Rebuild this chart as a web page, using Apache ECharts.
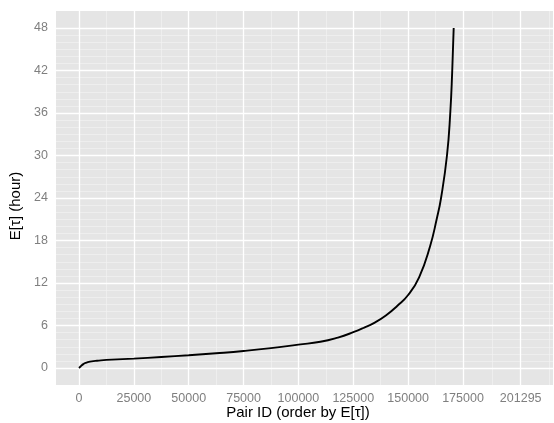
<!DOCTYPE html>
<html>
<head>
<meta charset="utf-8">
<script src="https://cdn.jsdelivr.net/npm/echarts@6/dist/echarts.min.js"></script>
<style>
  html, body { margin: 0; padding: 0; background: #fff; }
  #chart { width: 554px; height: 423px; }
</style>
</head>
<body>
<div id="chart"></div>
<script>
// Pairs ranked by expected waiting time E[τ], in hours
const pairRank = [0, 500, 1000, 2000, 3000, 5000, 7500, 10000, 15000, 25000,
  37500, 50000, 62500, 75000, 87500, 100000, 110000, 118000, 125000, 130000,
  135000, 140000, 145000, 150000, 155000, 160000, 163000,
  165000, 167700, 169200, 170100, 170760];
const expectedHours = [0, 0.15, 0.3, 0.55, 0.72, 0.9, 1.0, 1.08, 1.18, 1.32,
  1.55, 1.8, 2.08, 2.4, 2.8, 3.3, 3.7, 4.3, 5.05, 5.7,
  6.45, 7.45, 8.75, 10.3, 12.8, 17.2, 21,
  24, 30, 36, 42, 48];

// Axis breaks
const xTicks = [0, 25000, 50000, 75000, 100000, 125000, 150000, 175000, 201295];
const xMinor = [12500, 37500, 62500, 87500, 112500, 137500, 162500, 188147.5, 214442.5];
const yTicks = [0, 6, 12, 18, 24, 30, 36, 42, 48];
const yMinor = [];
for (let h = 1; h < 48; h++) if (h % 6 !== 0) yMinor.push(h);

const curve = pairRank.map((x, i) => [x, expectedHours[i]]);

const minorStyle = { color: '#F2F2F2', width: 0.7, type: 'solid' };
const majorStyle = { color: '#FFFFFF', width: 1.3, type: 'solid' };

const gridLines = []
  .concat(yMinor.map(v => ({ yAxis: v, lineStyle: minorStyle })))
  .concat(xMinor.map(v => ({ xAxis: v, lineStyle: minorStyle })))
  .concat(yTicks.map(v => ({ yAxis: v, lineStyle: majorStyle })))
  .concat(xTicks.map(v => ({ xAxis: v, lineStyle: majorStyle })));

const tickText = { color: '#7F7F7F', fontSize: 12.5, fontFamily: 'Liberation Sans', formatter: v => String(v) };

const chart = echarts.init(document.getElementById('chart'), null, { renderer: 'canvas' });
chart.setOption({
  animation: false,
  backgroundColor: '#FFFFFF',
  grid: {
    left: 56, right: 1, top: 11, bottom: 38,
    outerBoundsMode: 'none',
    containLabel: false,
    show: true, backgroundColor: '#E5E5E5', borderWidth: 0
  },
  xAxis: {
    type: 'value',
    min: -10480, max: 216020,
    splitLine: { show: false },
    axisLine: { show: false },
    axisTick: { show: true, length: 4, customValues: xTicks, lineStyle: { color: '#7F7F7F', width: 1 } },
    axisLabel: Object.assign({ customValues: xTicks, margin: 7 }, tickText),
    name: 'Pair ID (order by E[τ])',
    nameLocation: 'middle',
    nameMoveOverlap: false,
    nameGap: 20,
    nameTextStyle: { color: '#000', fontSize: 15, fontFamily: 'Liberation Sans', padding: [0, 13, 0, 0] }
  },
  yAxis: {
    type: 'value',
    min: -2.4, max: 50.4,
    splitLine: { show: false },
    axisLine: { show: false },
    axisTick: { show: true, length: 4, customValues: yTicks, lineStyle: { color: '#7F7F7F', width: 1 } },
    axisLabel: Object.assign({ customValues: yTicks, margin: 8 }, tickText),
    name: 'E[τ] (hour)',
    nameLocation: 'middle',
    nameGap: 32,
    nameTextStyle: { color: '#000', fontSize: 15, fontFamily: 'Liberation Sans', padding: [0, 16, 0, 0] }
  },
  series: [
    {
      name: 'grid',
      type: 'line',
      data: [],
      z: 1,
      silent: true,
      markLine: {
        silent: true,
        symbol: ['none', 'none'],
        label: { show: false },
        emphasis: { disabled: true },
        data: gridLines
      }
    },
    {
      name: 'E[τ]',
      type: 'line',
      z: 5,
      data: curve,
      showSymbol: false,
      smooth: 0.5,
      lineStyle: { color: '#000000', width: 1.9 }
    }
  ]
});
</script>
</body>
</html>
